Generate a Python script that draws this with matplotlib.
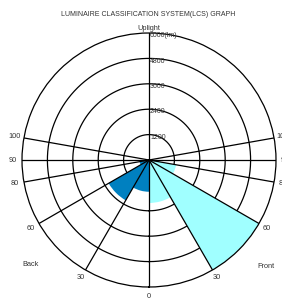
import numpy as np
import matplotlib
matplotlib.use("Agg")
import matplotlib.pyplot as plt

plt.rcParams['font.family'] = ['Liberation Sans', 'DejaVu Sans']

# LCS zones (degrees from nadir) and lumens
zone_lo = [0, 30, 60, 80]
zone_hi = [30, 60, 80, 90]
front_lm = [2030, 6000, 1300, 0]
back_lm = [1500, 2200, 450, 0]

ring_vals = [1200, 2400, 3600, 4800, 6000]
ring_labels = ["1200", "2400", "3600", "4800", "6000(lm)"]
grid_angles = [30, 60, 80, 90, 100]
angle_labels = ["30", "60", "80", "90", "100"]
RMAX = 6000

W, H = 282, 298
fig = plt.figure(figsize=(W/100, H/100), dpi=100)
cx, cy, R = 149, 160, 127
ax = fig.add_axes([(cx-R)/W, (H-cy-R)/H, 2*R/W, 2*R/H], projection="polar")
ax.set_theta_zero_location("S")
ax.set_theta_direction(1)
ax.set_ylim(0, RMAX)
ax.grid(False)
ax.set_xticks([]); ax.set_yticks([])
ax.spines["polar"].set_linewidth(0.9)

# wedges (front = right, back = left)
for lo, hi, f, b in zip(zone_lo, zone_hi, front_lm, back_lm):
    w = np.radians(hi - lo)
    c = np.radians((lo + hi) / 2)
    ax.bar(c, f, width=w, bottom=0, color="#A0FFFF", linewidth=0, zorder=2)
    ax.bar(-c, b, width=w, bottom=0, color="#0080C0", linewidth=0, zorder=2)

# rings under the fills
t = np.linspace(0, 2*np.pi, 400)
for r in ring_vals[:-1]:
    ax.plot(t, np.full_like(t, r), color="black", lw=0.9, zorder=1)

# radial lines over the fills
ax.plot([0, 0], [0, RMAX], color="black", lw=0.9, zorder=3)
ax.plot([np.pi, np.pi], [0, RMAX], color="black", lw=0.9, zorder=3)
for a in grid_angles:
    for s in (1, -1):
        ax.plot([s*np.radians(a)]*2, [0, RMAX], color="black", lw=0.9, zorder=3)

# angle labels
lab_r = RMAX * 136 / R
txt = dict(fontsize=5.3, color="#333333", ha="center", va="center", clip_on=False)
for a, lab in zip(grid_angles, angle_labels):
    for s in (1, -1):
        ax.text(s*np.radians(a), lab_r, lab, **txt)
ax.text(0, lab_r, "0", **txt)

# ring labels along the uplight axis
for r, lab in zip(ring_vals, ring_labels):
    ax.annotate(lab, xy=(np.pi, r), xytext=(0.7, -1.9), textcoords="offset points",
                fontsize=5, color="#333333", ha="left", va="center", zorder=4)

ax.annotate("Uplight", xy=(np.pi, RMAX), xytext=(0, 2.9), textcoords="offset points",
            fontsize=5.3, color="#333333", ha="center", va="center")
side_r = RMAX * 158 / R
ax.text(np.radians(47.5), side_r, "Front", **txt)
ax.text(-np.radians(48.5), side_r, "Back", **txt)

fig.text(148/W, 1 - 15/H, "LUMINAIRE CLASSIFICATION SYSTEM(LCS) GRAPH",
         fontsize=5, color="#333333", ha="center", va="center")

fig.savefig("out.png", dpi=100)
